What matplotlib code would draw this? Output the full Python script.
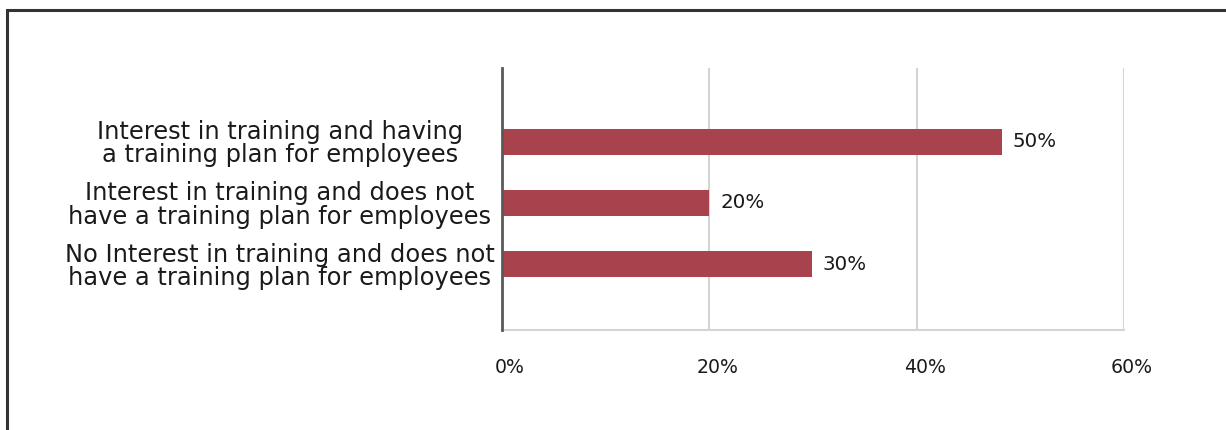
import numpy as np
import matplotlib
matplotlib.use("Agg")
import matplotlib.pyplot as plt
from matplotlib.patches import Rectangle
from matplotlib.transforms import offset_copy, ScaledTranslation

## survey answers about training

categories = ["Interest in training and having\na training plan for employees",
              "Interest in training and does not\nhave a training plan for employees",
              "No Interest in training and does not\nhave a training plan for employees"]
values = [48.2, 20.0, 29.9]
value_labels = ["50%", "20%", "30%"]
xticks = [0, 20, 40, 60]
xtick_labels = ["0%", "20%", "40%", "60%"]

bar_color = "#a8434e"
text_color = "#1a1a1a"

fig = plt.figure(figsize=(12.26, 4.30), dpi=100)
ax = fig.add_axes([502/1226, 100/430, 622/1226, 262/430])

y = np.arange(len(categories))
ax.barh(y, values, height=0.43, color=bar_color, zorder=3)

for yi, v, lab in zip(y, values, value_labels):
    tr = offset_copy(ax.transData, fig=fig, x=11, y=0, units="dots")
    ax.text(v, yi, lab, transform=tr, va="center", ha="left",
            fontsize=14.3, color=text_color)

ax.set_xlim(0, 60)
ax.set_ylim(3.08, -1.21)
ax.set_xticks(xticks)
ax.set_xticklabels(xtick_labels, fontsize=13.6, color=text_color)
ax.set_yticks(y)
ax.set_yticklabels(categories, fontsize=17.4, color=text_color,
                   ha="center", multialignment="center", linespacing=0.95)
ax.tick_params(axis="y", length=0, pad=160)
ax.tick_params(axis="x", length=0, pad=20)

# tick labels sit a little right of their grid lines
shift = ScaledTranslation(8/100, 0, fig.dpi_scale_trans)
for lbl in ax.get_xticklabels():
    lbl.set_transform(lbl.get_transform() + shift)

ax.grid(axis="x", color="#d4d4d4", linewidth=1.5, zorder=0)
for side in ["top", "right"]:
    ax.spines[side].set_visible(False)
ax.spines["left"].set_color("#595959")
ax.spines["left"].set_linewidth(2)
ax.spines["left"].set_zorder(4)
ax.spines["bottom"].set_color("#d4d4d4")
ax.spines["bottom"].set_linewidth(1.5)

# outer frame, cut off at the right and bottom edges
frame = Rectangle((7/1226, -0.1), 1.2, 0.1 + (430-10)/430,
                  transform=fig.transFigure, fill=False,
                  edgecolor="#333333", linewidth=2.2)
fig.patches.append(frame)

fig.savefig("out.png", dpi=100)
